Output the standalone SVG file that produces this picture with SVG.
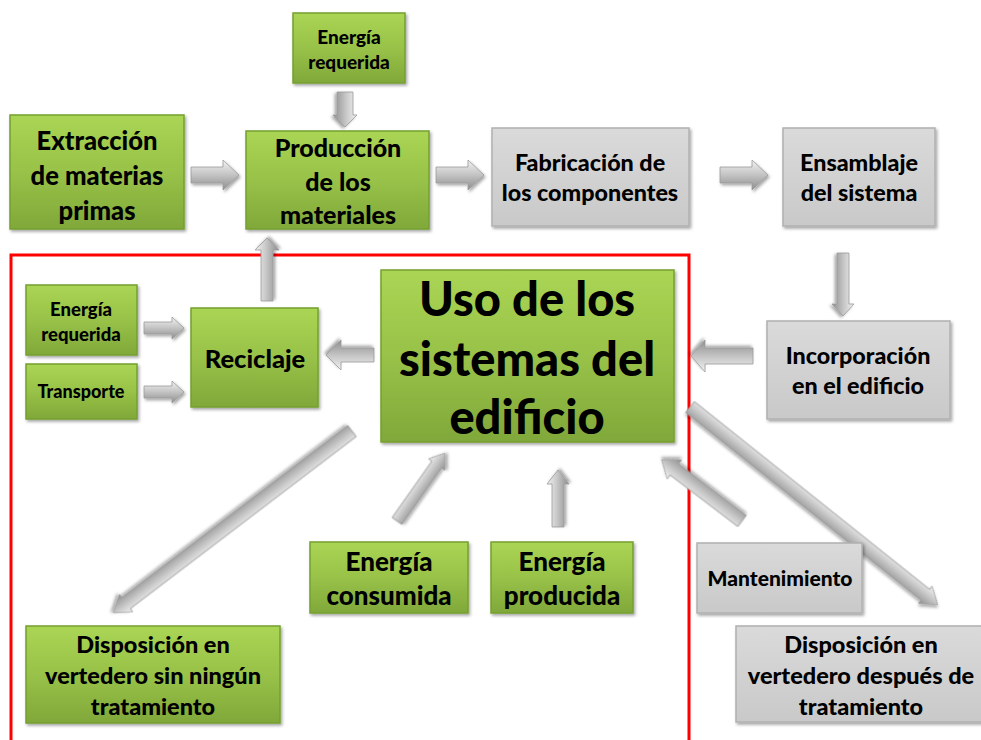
<svg xmlns="http://www.w3.org/2000/svg" width="981" height="740" viewBox="0 0 981 740">
<defs>
<linearGradient id="gGreen" x1="0" y1="0" x2="0" y2="1">
<stop offset="0" stop-color="#aad554"/><stop offset="0.5" stop-color="#98c248"/><stop offset="1" stop-color="#80a83a"/>
</linearGradient>
<linearGradient id="gGray" x1="0" y1="0" x2="0" y2="1">
<stop offset="0" stop-color="#dadada"/><stop offset="1" stop-color="#c9c9c9"/>
</linearGradient>
<linearGradient id="gArrow" x1="0" y1="0" x2="0" y2="1">
<stop offset="0" stop-color="#f2f2f2"/><stop offset="0.45" stop-color="#c8c8c8"/><stop offset="1" stop-color="#8e8e8e"/>
</linearGradient>
<filter id="sh" x="-10%" y="-10%" width="130%" height="130%">
<feDropShadow dx="1.5" dy="2" stdDeviation="1.5" flood-color="#000" flood-opacity="0.35"/>
</filter>
</defs>
<style>
.g{fill:url(#gGreen);stroke:#74a02e;stroke-width:1.5;filter:url(#sh)}
.y{fill:url(#gGray);stroke:#b0b0b0;stroke-width:1.5;filter:url(#sh)}
text{font-family:Lato,"Open Sans","Liberation Sans",sans-serif;font-weight:900;fill:#000;text-anchor:middle}
.ar{fill:url(#gArrow);stroke:#9a9a9a;stroke-width:0.8;filter:url(#sh)}
</style>
<rect width="981" height="740" fill="#fff"/>

<!-- red frame -->
<path d="M11,740 V255 H689 V740" fill="none" stroke="#ff0000" stroke-width="3"/>

<g id="connectors">
<path class="ar" transform="translate(191,175)" d="M0,-8 H32 V-15 L48,0 L32,15 V8 H0 Z"/>
<path class="ar" transform="translate(436,175)" d="M0,-8 H32 V-15 L48,0 L32,15 V8 H0 Z"/>
<path class="ar" transform="translate(345,92) rotate(90)" d="M0,-8 H23 V-12 L35,0 L23,12 V8 H0 Z"/>
<path class="ar" transform="translate(720,175)" d="M0,-8 H32 V-15 L48,0 L32,15 V8 H0 Z"/>
<path class="ar" transform="translate(843,253) rotate(90)" d="M0,-6 H51 V-11 L63,0 L51,11 V6 H0 Z"/>
<path class="ar" transform="translate(753,356) rotate(180)" d="M0,-8 H48 V-16 L62,0 L48,16 V8 H0 Z"/>
<path class="ar" transform="translate(267,301) rotate(-90)" d="M0,-6 H51 V-12 L63,0 L51,12 V6 H0 Z"/>
<path class="ar" transform="translate(374,355) rotate(180)" d="M0,-7 H33 V-15 L48,0 L33,15 V7 H0 Z"/>
<path class="ar" transform="translate(144,328)" d="M0,-6 H28 V-11 L40,0 L28,11 V6 H0 Z"/>
<path class="ar" transform="translate(144,392)" d="M0,-6 H28 V-11 L40,0 L28,11 V6 H0 Z"/>
<path class="ar" transform="translate(352,431) rotate(142.7)" d="M0,-7 H284 V-11 L300,0 L284,11 V7 H0 Z"/>
<path class="ar" transform="translate(397,521) rotate(-54.8)" d="M0,-6 H69 V-10 L83,0 L69,10 V6 H0 Z"/>
<path class="ar" transform="translate(558,527) rotate(-90)" d="M0,-6 H43 V-11 L57,0 L43,11 V6 H0 Z"/>
<path class="ar" transform="translate(742,521) rotate(-142.7)" d="M0,-7 H85 V-12 L101,0 L85,12 V7 H0 Z"/>
<path class="ar" transform="translate(690,407) rotate(38.6)" d="M0,-7 H301 V-11 L317,0 L301,11 V7 H0 Z"/>
</g>

<g id="energia-requerida-top">
<rect class="g" x="293" y="13" width="112" height="70"/>
<text x="349" y="44" font-size="19">Energía</text>
<text x="349" y="69" font-size="19">requerida</text>
</g>
<g id="extraccion">
<rect class="g" x="10" y="115" width="174" height="114"/>
<text x="97" y="150" font-size="25.6">Extracción</text>
<text x="97" y="185" font-size="25.6">de materias</text>
<text x="97" y="220" font-size="25.6">primas</text>
</g>
<g id="produccion">
<rect class="g" x="246" y="131" width="183" height="98"/>
<text x="338" y="157" font-size="25">Producción</text>
<text x="338" y="191" font-size="25">de los</text>
<text x="338" y="224" font-size="25">materiales</text>
</g>
<g id="fabricacion">
<rect class="y" x="492" y="128" width="197" height="98"/>
<text x="590" y="171" font-size="23.3">Fabricación de</text>
<text x="590" y="201" font-size="23.3">los componentes</text>
</g>
<g id="ensamblaje">
<rect class="y" x="783" y="128" width="152" height="98"/>
<text x="859" y="171" font-size="23.3">Ensamblaje</text>
<text x="859" y="201" font-size="23.3">del sistema</text>
</g>
<g id="incorporacion">
<rect class="y" x="767" y="321" width="183" height="98"/>
<text x="858" y="364" font-size="23.3">Incorporación</text>
<text x="858" y="394" font-size="23.3">en el edificio</text>
</g>
<g id="energia-requerida-left">
<rect class="g" x="26" y="285" width="111" height="70"/>
<text x="81" y="316" font-size="18.5">Energía</text>
<text x="81" y="341" font-size="18.5">requerida</text>
</g>
<g id="transporte">
<rect class="g" x="26" y="364" width="111" height="55"/>
<text x="81" y="398" font-size="18">Transporte</text>
</g>
<g id="reciclaje">
<rect class="g" x="191" y="308" width="127" height="99"/>
<text x="255" y="368" font-size="25.5">Reciclaje</text>
</g>
<g id="uso">
<rect class="g" x="381" y="270" width="293" height="172"/>
<text x="527" y="316" font-size="47">Uso de los</text>
<text x="527" y="376" font-size="47">sistemas del</text>
<text x="527" y="434" font-size="47">edificio</text>
</g>
<g id="energia-consumida">
<rect class="g" x="310" y="542" width="158" height="71"/>
<text x="389" y="571" font-size="26">Energía</text>
<text x="389" y="605" font-size="26">consumida</text>
</g>
<g id="energia-producida">
<rect class="g" x="491" y="542" width="142" height="71"/>
<text x="562" y="571" font-size="26">Energía</text>
<text x="562" y="605" font-size="26">producida</text>
</g>
<g id="mantenimiento">
<rect class="y" x="697" y="543" width="165" height="70"/>
<text x="780" y="586" font-size="21">Mantenimiento</text>
</g>
<g id="disposicion-sin">
<rect class="g" x="26" y="626" width="254" height="97"/>
<text x="153" y="653" font-size="23.5">Disposición en</text>
<text x="153" y="684" font-size="23.5">vertedero sin ningún</text>
<text x="153" y="715" font-size="23.5">tratamiento</text>
</g>
<g id="disposicion-despues">
<rect class="y" x="736" y="626" width="250" height="96"/>
<text x="861" y="653" font-size="23.5">Disposición en</text>
<text x="861" y="684" font-size="23.5">vertedero después de</text>
<text x="861" y="715" font-size="23.5">tratamiento</text>
</g>
</svg>
